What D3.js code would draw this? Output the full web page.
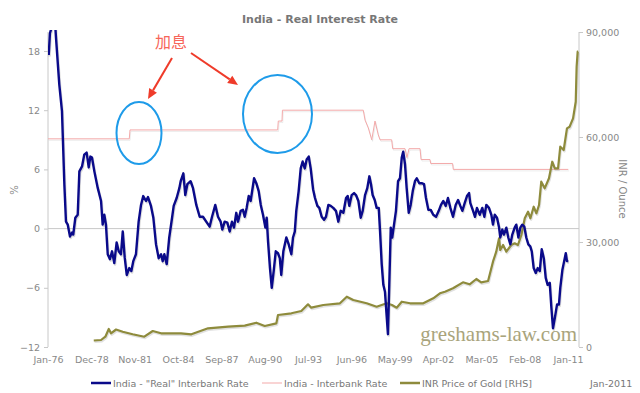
<!DOCTYPE html>
<html lang="en">
<head>
    <meta charset="UTF-8">
    <title>India - Real Interest Rate</title>
    <script src="https://cdn.jsdelivr.net/npm/d3@7"></script>
    <style>
        body{margin:0;background:#fff;}
        text{font-family:"DejaVu Sans",Verdana,sans-serif;}
    </style>
</head>
<body>
<script>
    // real interbank rate (%), decimal year
    var realT = [1976.05,1976.13,1976.27,1976.49,1976.54,1976.76,1976.94,1977.10,1977.21,1977.33,1977.48,1977.62,1977.70,1977.84,1978.00,
        1978.11,1978.29,1978.44,1978.60,1978.74,1978.85,1978.96,1979.12,1979.35,1979.57,1979.68,1979.79,1979.90,1980.02,1980.17,1980.31,
        1980.46,1980.62,1980.76,1980.91,1981.03,1981.16,1981.30,1981.47,1981.61,1981.74,1981.92,1982.10,1982.26,1982.41,1982.60,1982.73,
        1982.93,1983.09,1983.27,1983.45,1983.61,1983.72,1983.83,1983.99,1984.16,1984.35,1984.46,1984.66,1984.84,1984.93,1985.11,1985.24,
        1985.38,1985.60,1985.76,1985.98,1986.21,1986.43,1986.65,1986.88,1987.04,1987.26,1987.44,1987.62,1987.73,1987.89,1988.07,1988.23,
        1988.38,1988.52,1988.67,1988.79,1988.97,1989.12,1989.24,1989.37,1989.51,1989.64,1989.87,1990.02,1990.18,1990.32,1990.47,1990.63,
        1990.72,1990.81,1990.94,1991.06,1991.19,1991.33,1991.48,1991.60,1991.70,1991.84,1992.04,1992.20,1992.38,1992.49,1992.61,1992.71,
        1992.87,1993.01,1993.14,1993.28,1993.41,1993.55,1993.68,1993.84,1993.97,1994.13,1994.26,1994.42,1994.58,1994.71,1994.87,1995.03,
        1995.20,1995.38,1995.54,1995.70,1995.88,1996.06,1996.17,1996.28,1996.44,1996.60,1996.73,1996.89,1997.05,1997.18,1997.34,1997.49,
        1997.63,1997.74,1997.85,1997.99,1998.12,1998.26,1998.35,1998.46,1998.57,1998.68,1998.80,1998.88,1998.97,1999.07,1999.17,1999.29,
        1999.42,1999.56,1999.69,1999.81,1999.91,2000.03,2000.14,2000.28,2000.41,2000.55,2000.70,2000.82,2000.99,2001.15,2001.31,2001.44,
        2001.60,2001.76,2001.93,2002.12,2002.30,2002.45,2002.61,2002.77,2002.92,2003.08,2003.26,2003.44,2003.60,2003.75,2003.89,2004.05,
        2004.20,2004.34,2004.42,2004.61,2004.74,2004.87,2005.06,2005.23,2005.37,2005.50,2005.68,2005.84,2005.95,2006.07,2006.22,2006.36,
        2006.44,2006.58,2006.69,2006.85,2006.98,2007.12,2007.25,2007.41,2007.52,2007.66,2007.79,2007.92,2008.06,2008.19,2008.33,2008.46,
        2008.56,2008.69,2008.83,2008.96,2009.10,2009.23,2009.37,2009.50,2009.63,2009.77,2009.88,2009.99,2010.12,2010.26,2010.39,2010.48,
        2010.62,2010.70,2010.85,2010.93,2011.02];
    var realRate = [17.6,19.8,20.5,20.5,19.3,14.6,11.9,4.5,0.7,0.4,-0.8,-0.4,-0.6,1.1,1.4,
        5.8,6.3,7.5,7.7,6.2,7.3,7.2,5.8,4.1,2.8,0.4,1.4,0.4,-2.6,-3.1,-2.3,
        -3.5,-1.4,-2.3,-2.6,-0.3,-2.9,-4.7,-4.0,-4.3,-3.3,-2.6,0.7,2.4,3.3,2.8,3.2,
        2.3,1.1,-1.6,-3.0,-2.6,-3.3,-2.6,-3.6,-0.9,1.1,2.3,3.1,4.1,4.8,5.6,3.4,
        4.5,4.8,4.1,2.4,1.2,1.2,0.7,0.2,1.2,2.4,1.2,0.7,-0.1,0.7,0.6,-0.3,
        0.7,0.1,1.6,0.7,1.8,1.9,1.2,2.1,3.3,2.8,5.1,4.6,3.8,2.4,1.4,0.1,
        1.1,-1.3,-4.0,-6.0,-4.3,-2.3,-2.5,-3.0,-4.7,-2.3,-0.9,-1.6,-2.6,-0.9,-0.3,1.8,
        3.8,6.1,6.8,6.1,7.0,7.3,6.1,4.0,3.1,2.3,2.1,1.2,0.9,1.2,2.4,2.3,
        2.1,1.8,0.7,1.8,1.6,3.1,3.3,2.3,3.4,3.6,3.4,2.8,1.1,1.8,3.4,4.1,
        5.3,4.5,3.4,2.9,2.1,2.1,-0.3,-3.6,-5.7,-6.4,-9.0,-10.7,-5.7,0.1,-0.9,0.4,
        1.8,4.8,5.1,7.2,7.8,6.5,4.1,1.6,2.4,3.8,4.8,5.1,4.6,4.6,4.5,3.1,
        1.9,1.9,1.4,1.2,1.8,2.4,2.8,2.3,3.1,2.1,1.2,2.4,2.9,2.3,1.8,2.6,
        3.3,3.6,2.6,1.8,1.2,2.1,1.4,2.1,1.2,2.4,2.1,1.4,0.4,1.4,1.1,0.1,
        -0.9,-0.1,-0.6,0.1,-0.9,-1.6,-0.6,0.1,0.4,-0.9,0.1,0.4,0.2,-0.9,-1.6,-1.8,
        -2.3,-4.0,-4.5,-4.0,-4.3,-2.1,-3.0,-5.0,-5.7,-5.5,-8.0,-10.1,-9.0,-7.7,-7.7,-6.0,
        -4.2,-3.6,-2.5,-3.3,-3.3];

    // interbank rate (%)
    var bankT = [1976.0,1981.47,1981.52,1991.46,1991.50,1991.75,1991.78,1997.22,1997.34,1997.56,1997.79,1998.01,1998.23,1998.35,
        1999.13,1999.20,2000.03,2000.16,2000.30,2001.04,2001.11,2001.71,2001.76,2003.23,2003.28,2011.02];
    var bankRate = [9.1,9.1,10.0,10.0,10.9,10.9,12.0,12.0,11.0,10.2,9.0,10.9,9.5,9.0,
        9.0,8.1,8.1,7.2,8.1,8.1,7.0,7.0,6.6,6.6,6.0,6.0];

    // INR price of gold per ounce
    var goldT = [1979.08,1979.57,1979.86,1980.09,1980.24,1980.58,1981.03,1981.70,1982.48,1983.05,1983.61,1984.95,1985.65,1986.77,
        1988.12,1989.24,1990.02,1990.59,1991.37,1991.48,1992.38,1993.05,1993.50,1993.72,1994.53,1995.65,1996.11,1996.55,1997.45,
        1998.12,1998.80,1999.15,1999.47,1999.81,2000.37,2001.26,2001.93,2002.38,2002.72,2003.26,2003.93,2004.38,2004.83,2005.16,
        2005.62,2005.95,2006.17,2006.36,2006.44,2006.63,2006.85,2007.18,2007.41,2007.63,2007.86,2008.09,2008.31,2008.47,2008.69,
        2008.87,2009.05,2009.20,2009.43,2009.72,2009.94,2010.11,2010.33,2010.48,2010.71,2010.93,2011.11,2011.34,2011.52,2011.58,2011.65,2011.69];
    var goldPrice = [1860,2000,2940,5140,3910,5000,4370,3630,2940,4570,3910,3910,3630,5340,
        5800,6090,6940,6000,6770,9140,9630,10290,12200,11230,12000,12490,14370,13430,12490,
        11510,12490,12000,11230,12940,12490,12490,13910,15340,15800,16770,18480,17910,19430,18480,
        18860,24370,27230,31060,27710,29140,27230,29140,29630,29140,32000,36770,38660,36770,40080,
        38200,40570,47230,45340,48200,52940,51060,51060,57230,56280,62480,62940,65340,70080,80080,84370,84400];

    var xTickLabels = ["Jan-76","Dec-78","Nov-81","Oct-84","Sep-87","Aug-90","Jul-93","Jun-96","May-99","Apr-02","Mar-05","Feb-08","Jan-11"];
    var leftTicks = [-12,-6,0,6,12,18];
    var rightTicks = [0,30000,60000,90000];
    var seriesNames = ['India - "Real" Interbank Rate','India - Interbank Rate','INR Price of Gold [RHS]'];
    var seriesColors = ["#0a0a8a","#f3a9a9","#8e8b3c"];

    var width = 640, height = 393;
    var plot = {left:48, right:579, top:32, bottom:347};

    var svg = d3.select("body").append("svg").attr("width",width).attr("height",height);

    var parseTick = d3.timeParse("%b-%y");
    function tickYear(s){
        var d = parseTick(s);
        return d.getFullYear() + d.getMonth()/12;
    }

    var x = d3.scaleLinear().domain([1976, 2011.74]).range([plot.left, plot.right]);
    var yL = d3.scaleLinear().domain([-12, 18]).range([plot.bottom, 51]);
    var yR = d3.scaleLinear().domain([0, 90000]).range([plot.bottom, plot.top]);

    svg.append("defs").append("clipPath").attr("id","clip")
        .append("rect").attr("x",plot.left).attr("y",plot.top-2)
        .attr("width",plot.right-plot.left+2).attr("height",plot.bottom-plot.top+4);

    //title
    svg.append("text").attr("x",320).attr("y",23).attr("text-anchor","middle")
        .attr("font-size","11px").attr("font-weight","bold").attr("fill","#777")
        .text("India - Real Interest Rate");

    //zero line
    svg.append("line").attr("x1",plot.left).attr("x2",plot.right)
        .attr("y1",yL(0)).attr("y2",yL(0)).attr("stroke","#c8c8c8").attr("stroke-width",1);

    //left axis
    var gL = svg.append("g").attr("transform","translate("+plot.left+",0)")
        .call(d3.axisLeft(yL).tickValues(leftTicks).tickSize(4).tickPadding(4));
    gL.select(".domain").remove();
    gL.append("line").attr("x1",0).attr("x2",0).attr("y1",plot.top).attr("y2",plot.bottom).attr("stroke","#c8c8c8");
    gL.selectAll(".tick line").attr("stroke","#c8c8c8");
    gL.selectAll(".tick text").attr("fill","#888").attr("font-size","9.5px");

    //right axis
    var gR = svg.append("g").attr("transform","translate("+plot.right+",0)")
        .call(d3.axisRight(yR).tickValues(rightTicks).tickSize(4).tickPadding(3).tickFormat(d3.format(",")));
    gR.select(".domain").remove();
    gR.append("line").attr("x1",0).attr("x2",0).attr("y1",plot.top).attr("y2",plot.bottom).attr("stroke","#c8c8c8");
    gR.selectAll(".tick line").attr("stroke","#c8c8c8");
    gR.selectAll(".tick text").attr("fill","#888").attr("font-size","9.5px");

    //x labels
    var gX = svg.append("g").attr("transform","translate(0,352)")
        .call(d3.axisBottom(x).tickValues(xTickLabels.map(tickYear)).tickSize(0).tickPadding(4)
            .tickFormat(function(d,i){return xTickLabels[i];}));
    gX.select(".domain").remove();
    gX.selectAll(".tick text").attr("fill","#888").attr("font-size","9.5px");

    //axis titles
    svg.append("text").attr("transform","translate(18,190) rotate(-90)").attr("text-anchor","middle")
        .attr("font-size","10px").attr("fill","#888").text("%");
    svg.append("text").attr("transform","translate(619,189) rotate(90)").attr("text-anchor","middle")
        .attr("font-size","10px").attr("fill","#888").text("INR / Ounce");

    //watermark
    svg.append("text").attr("x",577).attr("y",341).attr("text-anchor","end")
        .style("font-family","'Liberation Serif', 'DejaVu Serif', serif").attr("font-size","21px").attr("fill","#a9a47c")
        .text("greshams-law.com");

    //lines
    var lines = svg.append("g").attr("clip-path","url(#clip)");
    function drawLine(ts, vs, yScale, color, w, shadow){
        var pts = ts.map(function(t,i){return [t, vs[i]];});
        var gen = d3.line().x(function(d){return x(d[0]);}).y(function(d){return yScale(d[1]);});
        lines.append("path").attr("d",gen(pts)).attr("fill","none")
            .attr("stroke","#888").attr("stroke-opacity",shadow).attr("stroke-width",w)
            .attr("stroke-linejoin","round").attr("transform","translate(0.8,1.5)");
        lines.append("path").attr("d",gen(pts)).attr("fill","none")
            .attr("stroke",color).attr("stroke-width",w).attr("stroke-linejoin","round");
    }
    drawLine(bankT, bankRate, yL, seriesColors[1], 1, 0.15);
    drawLine(goldT, goldPrice, yR, seriesColors[2], 2.2, 0.25);
    drawLine(realT, realRate, yL, seriesColors[0], 2.4, 0.3);

    //legend
    var legX = [91, 262, 400];
    var leg = svg.selectAll(".leg").data(seriesNames).enter().append("g")
        .attr("transform",function(d,i){return "translate("+legX[i]+",383)";});
    leg.append("line").attr("x1",0).attr("x2",20).attr("y1",0).attr("y2",0)
        .attr("stroke",function(d,i){return seriesColors[i];})
        .attr("stroke-width",function(d,i){return [2.5,1,2.5][i];});
    leg.append("text").attr("x",22).attr("y",3.5).attr("font-size","9.5px").attr("fill","#777")
        .text(function(d){return d;});
    svg.append("text").attr("x",590).attr("y",387).attr("font-size","9.5px").attr("fill","#777").text("Jan-2011");

    //annotations 加息
    svg.append("text").attr("x",155).attr("y",48).style("font-family","'Noto Sans CJK SC', sans-serif")
        .attr("font-size","16px").attr("fill","#f7665a").text("加息");
    function arrow(x1,y1,x2,y2){
        var a = Math.atan2(y2-y1, x2-x1), L = 10, W = 4.5;
        var bx = x2 - L*Math.cos(a), by = y2 - L*Math.sin(a);
        svg.append("line").attr("x1",x1).attr("y1",y1).attr("x2",bx).attr("y2",by)
            .attr("stroke","#ef3b2a").attr("stroke-width",2);
        var p = [[x2,y2],[bx + W*Math.sin(a), by - W*Math.cos(a)],[bx - W*Math.sin(a), by + W*Math.cos(a)]];
        svg.append("polygon").attr("points",p.map(function(d){return d.join(",");}).join(" ")).attr("fill","#ef3b2a");
    }
    arrow(172,58,148,99);
    arrow(191,53,238,85);
    svg.append("ellipse").attr("cx",139).attr("cy",133).attr("rx",22.5).attr("ry",31)
        .attr("fill","none").attr("stroke","#1e9be9").attr("stroke-width",2);
    svg.append("ellipse").attr("cx",277.5).attr("cy",114).attr("rx",34.5).attr("ry",39)
        .attr("fill","none").attr("stroke","#1e9be9").attr("stroke-width",2);
</script>
</body>
</html>
